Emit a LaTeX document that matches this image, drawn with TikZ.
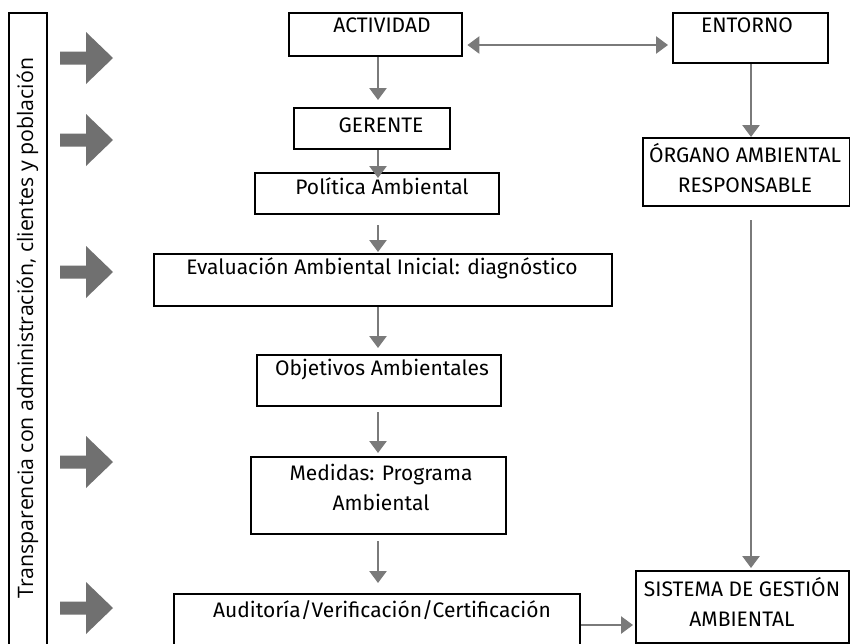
\documentclass[tikz,border=0pt]{standalone}
\usepackage{fontspec}
\IfFontExistsTF{Fira Sans Book}{\setmainfont{Fira Sans Book}}{\setmainfont{Fira Sans}}
\newfontfamily\sidefont{Open Sans}
\usetikzlibrary{arrows.meta}
\definecolor{arrowgray}{RGB}{112,112,112}
\definecolor{linkgray}{RGB}{122,122,122}
\begin{document}
\begin{tikzpicture}[x=1pt,y=-1pt,
  frame/.style={draw=black, line width=2.4pt, inner sep=0pt, anchor=north west},
  lbl/.style={font=\fontsize{21}{30}\selectfont, inner sep=0pt, align=center, anchor=base},
  link/.style={draw=linkgray, line width=2.6pt, -{Triangle[width=17pt,length=12pt]}},
  bigarrow/.style={fill=arrowgray}
]
\clip (0,0) rectangle (850,643);
\fill[white] (0,0) rectangle (850,643);

% side band with the transparency note
\node[frame, minimum width=38pt, minimum height=660pt] (side) at (8,12) {};
\node[rotate=90, anchor=base, inner sep=0pt, font=\sidefont\fontsize{21.3}{25}\selectfont]
  (side-t) at (33,328) {Transparencia con administración, clientes y población};

% block arrows pointing from the band to the process
\foreach \c in {58,140,272,462,608}
  \fill[bigarrow] (60,\c-6.5) -- (86,\c-6.5) -- (86,\c-26) -- (113,\c)
    -- (86,\c+26) -- (86,\c+6.5) -- (60,\c+6.5) -- cycle;

% boxes (multi-line labels are placed by the baseline of their last line)
\node[frame, minimum width=173pt, minimum height=43pt] (act) at (288,12) {};
\node[lbl] (act-t) at (382,32) {ACTIVIDAD};
\node[frame, minimum width=155pt, minimum height=50pt] (ent) at (672,12) {};
\node[lbl] (ent-t) at (747,32) {ENTORNO};
\node[frame, minimum width=156pt, minimum height=41pt] (ger) at (293,107) {};
\node[lbl] (ger-t) at (381,132) {GERENTE};
\node[frame, minimum width=244pt, minimum height=41pt] (pol) at (254,172) {};
\node[lbl] (pol-t) at (382,194) {Política Ambiental};
\node[frame, minimum width=458pt, minimum height=52pt] (eva) at (153,253) {};
\node[lbl] (eva-t) at (382,274) {Evaluación Ambiental Inicial: diagnóstico};
\node[frame, minimum width=244pt, minimum height=51pt] (obj) at (256,354) {};
\node[lbl] (obj-t) at (382,375) {Objetivos Ambientales};
\node[frame, minimum width=255pt, minimum height=77pt] (med) at (250,456) {};
\node[lbl] (med-t) at (381,510) {Medidas: Programa\\Ambiental};
\node[frame, minimum width=406pt, minimum height=70pt] (aud) at (173,593) {};
\node[lbl] (aud-t) at (382,617) {Auditoría/Verificación/Certificación};
\node[frame, minimum width=207pt, minimum height=68pt] (org) at (642,137) {};
\node[lbl] (org-t) at (745,192) {ÓRGANO AMBIENTAL\\RESPONSABLE};
\node[frame, minimum width=213pt, minimum height=72pt] (sis) at (635,570) {};
\node[lbl] (sis-t) at (742,626) {SISTEMA DE GESTIÓN\\AMBIENTAL};

% connectors
\coordinate (col) at (378,0);
\coordinate (rcol) at (751,0);
\coordinate (top) at (0,45);
\coordinate (low) at (0,625);
\draw[link, {Triangle[width=17pt,length=12pt]}-{Triangle[width=17pt,length=12pt]}, shorten <=4pt, shorten >=4pt]
  (act.east |- top) -- (ent.west |- top);
\draw[link, shorten >=7pt] (act.south -| col) -- (ger.north -| col);
\draw[link, shorten >=-6pt] (ger.south -| col) -- (pol.north -| col);
\draw[link, shorten <=10pt, shorten >=1pt] (pol.south -| col) -- (eva.north -| col);
\draw[link, shorten >=6pt] (eva.south -| col) -- (obj.north -| col);
\draw[link, shorten <=5pt, shorten >=3pt] (obj.south -| col) -- (med.north -| col);
\draw[link, shorten <=6pt, shorten >=10pt] (med.south -| col) -- (aud.north -| col);
\draw[link] (ent.south -| rcol) -- (org.north -| rcol);
\draw[link, shorten <=13pt, shorten >=2pt] (org.south -| rcol) -- (sis.north -| rcol);
\draw[link, shorten >=2pt] (aud.east |- low) -- (sis.west |- low);
\end{tikzpicture}
\end{document}
